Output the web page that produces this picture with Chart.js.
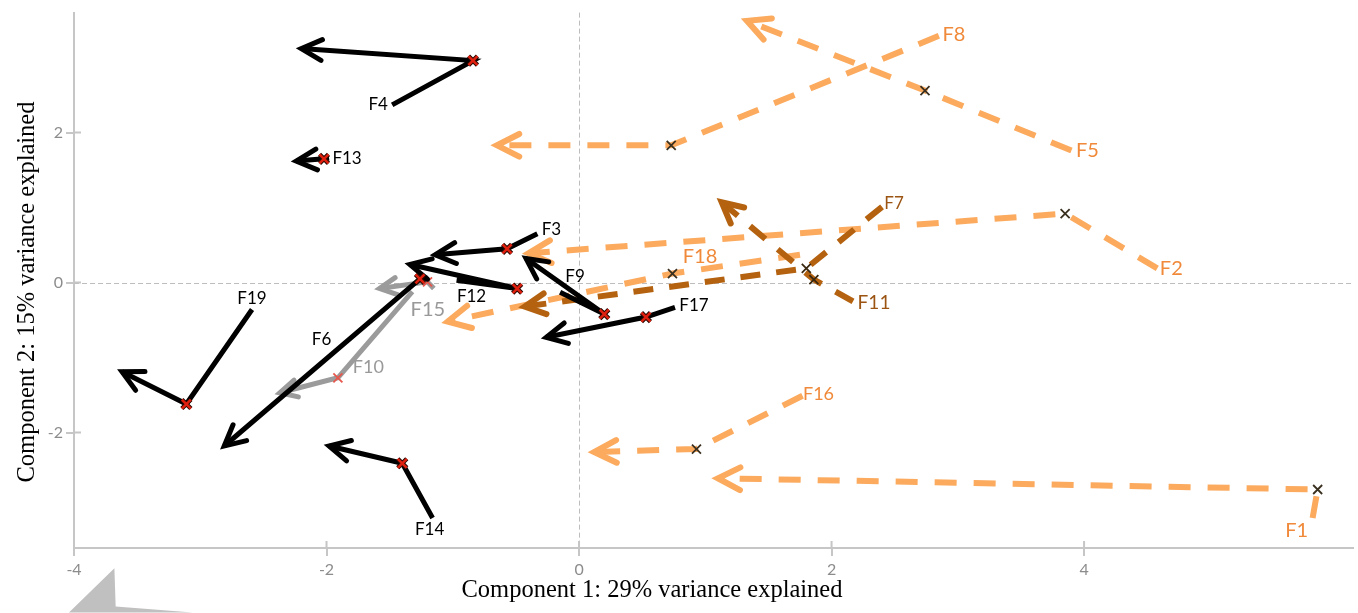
<!DOCTYPE html>
<html>
<head>
<meta charset="utf-8">
<script src="https://cdn.jsdelivr.net/npm/chart.js@4.4.0/dist/chart.umd.min.js"></script>
<style>
html, body { margin: 0; padding: 0; background: #fff; }
#wrap { width: 1358px; height: 613px; }
</style>
</head>
<body>
<div id="wrap"><canvas id="myChart"></canvas></div>
<script>
// one trajectory per factor: label at start -> x mark -> arrow head at end
var factors = ['F1','F2','F3','F4','F5','F6','F7','F8','F9','F10','F11','F12','F13','F14','F15','F16','F17','F18','F19'];
var groups  = ['orange','orange','black','black','orange','black','brown','orange','black','gray','brown','black','black','black','gray','orange','black','orange','black'];

var startX = [5.81, 4.58, -0.33, -1.48, 3.90, -1.20, 2.40, 2.85, -0.15, -1.32, 2.17, -0.97, -1.98, -1.16, -1.15, 1.77, 0.76, 1.75, -2.59];
var startY = [-3.14, 0.19, 0.65, 2.37, 1.76, 0.06, 1.01, 3.29, -0.13, -0.12, -0.25, 0.03, 1.66, -3.14, -0.08, -1.51, -0.33, 0.37, -0.36];
var midX   = [5.85, 3.85, -0.57, -0.84, 2.74, -1.26, 1.80, 0.73, 0.20, -1.91, 1.86, -0.49, -2.02, -1.40, -1.20, 0.93, 0.53, 0.74, -3.11];
var midY   = [-2.76, 0.92, 0.45, 2.96, 2.56, 0.05, 0.19, 1.83, -0.42, -1.27, 0.04, -0.08, 1.65, -2.41, 0.01, -2.22, -0.46, 0.12, -1.62];
var endX   = [1.10, -0.40, -1.14, -2.20, 1.33, -2.81, -0.43, -0.65, -0.42, -2.37, 1.13, -1.34, -2.24, -1.98, -1.58, 0.12, -0.26, -1.04, -3.62];
var endY   = [-2.61, 0.39, 0.37, 3.12, 3.49, -2.18, -0.32, 1.83, 0.32, -1.47, 1.07, 0.24, 1.62, -2.18, -0.08, -2.26, -0.73, -0.52, -1.19];

var xTicks = [-4, -2, 0, 2, 4];
var yTicks = [-2, 0, 2];
var xTitle = 'Component 1: 29% variance explained';
var yTitle = 'Component 2: 15% variance explained';

// stray grey arrow piece cut off below the axis
var strayX = [-3.68, -3.67, -3.06, -4.04];
var strayY = [-3.81, -4.32, -4.40, -4.40];

var styles = {
  black:  {line: '#000000', width: 5, dash: [], head: 23, mark: '#e0200f', edge: '#2a0800', text: '#000000', order: 0},
  gray:   {line: '#9b9b9b', width: 5, dash: [], head: 19, mark: '#e8574c', edge: null, text: '#999999', order: 1},
  brown:  {line: '#b4620f', width: 6, dash: [20, 16], head: 23, mark: '#3a2810', edge: null, text: '#9b5412', order: 2},
  orange: {line: '#fbaa5e', width: 6, dash: [22, 17], head: 25, mark: '#3a3020', edge: null, text: '#f08a3a', order: 3}
};

// label placement (centre offset from start point, px) and size
var labelPos = {
  F1: [-16, 13, 20], F2: [14, 0, 20], F3: [14, -4, 17], F4: [-14, 0, 17], F5: [16, 0, 20],
  F6: [-106, 61, 17], F7: [12, -3, 17], F8: [15, -1, 20], F9: [15, -16, 17], F10: [-44, 76, 18],
  F11: [21, 2, 19], F12: [15, 16, 17], F13: [18, 0, 17], F14: [-3, 12, 17], F15: [-6, 21, 20],
  F16: [16, -2, 18], F17: [19, -2, 17], F18: [-100, 2, 20], F19: [0, -11, 17]
};

var datasets = factors.map(function(f, i) {
  var st = styles[groups[i]];
  return {
    label: f,
    data: [{x: startX[i], y: startY[i]}, {x: midX[i], y: midY[i]}, {x: endX[i], y: endY[i]}],
    showLine: true,
    borderColor: st.line,
    borderWidth: st.width,
    borderDash: st.dash,
    borderCapStyle: 'butt',
    pointRadius: 0,
    tension: 0,
    fill: false,
    order: st.order
  };
});

var axisGrey = '#c6c6c6';

var trails = {
  id: 'trails',
  beforeDatasetsDraw: function(chart) {
    var ctx = chart.ctx, a = chart.chartArea;
    var xs = chart.scales.x, ys = chart.scales.y;
    ctx.save();
    ctx.strokeStyle = '#bdbdbd';
    ctx.lineWidth = 1;
    ctx.setLineDash([5, 3]);
    var x0 = Math.round(xs.getPixelForValue(0)) + 0.5;
    var y0 = Math.round(ys.getPixelForValue(0)) + 0.5;
    ctx.beginPath();
    ctx.moveTo(x0, a.top); ctx.lineTo(x0, a.bottom);
    ctx.moveTo(a.left, y0); ctx.lineTo(a.right, y0);
    ctx.stroke();
    // inner halves of the tick marks
    ctx.setLineDash([]);
    ctx.strokeStyle = axisGrey;
    ctx.lineWidth = 2;
    ctx.beginPath();
    xTicks.forEach(function(v) {
      var px = xs.getPixelForValue(v);
      ctx.moveTo(px, a.bottom); ctx.lineTo(px, a.bottom - 7);
    });
    yTicks.forEach(function(v) {
      var py = ys.getPixelForValue(v);
      ctx.moveTo(a.left, py); ctx.lineTo(a.left + 7, py);
    });
    ctx.stroke();
    ctx.restore();
  },
  afterDatasetDraw: function(chart, args) {
    var ctx = chart.ctx;
    var i = args.index;
    var st = styles[groups[i]];
    var pts = args.meta.data;
    var p1 = pts[1], p2 = pts[2];
    var ang = Math.atan2(p2.y - p1.y, p2.x - p1.x);
    var spread = 27 * Math.PI / 180;
    ctx.save();
    ctx.strokeStyle = st.line;
    ctx.lineWidth = st.width;
    ctx.lineCap = 'round';
    ctx.lineJoin = 'miter';
    ctx.setLineDash([]);
    ctx.beginPath();
    ctx.moveTo(p2.x - st.head * Math.cos(ang - spread), p2.y - st.head * Math.sin(ang - spread));
    ctx.lineTo(p2.x, p2.y);
    ctx.lineTo(p2.x - st.head * Math.cos(ang + spread), p2.y - st.head * Math.sin(ang + spread));
    ctx.stroke();
    // x mark at the middle point
    var r = 4.5;
    ctx.lineCap = 'butt';
    if (st.edge) {
      ctx.strokeStyle = st.edge;
      ctx.lineWidth = 4.5;
      ctx.beginPath();
      ctx.moveTo(p1.x - r, p1.y - r); ctx.lineTo(p1.x + r, p1.y + r);
      ctx.moveTo(p1.x - r, p1.y + r); ctx.lineTo(p1.x + r, p1.y - r);
      ctx.stroke();
    }
    ctx.strokeStyle = st.mark;
    ctx.lineWidth = st.edge ? 2.5 : 1.8;
    ctx.beginPath();
    ctx.moveTo(p1.x - r, p1.y - r); ctx.lineTo(p1.x + r, p1.y + r);
    ctx.moveTo(p1.x - r, p1.y + r); ctx.lineTo(p1.x + r, p1.y - r);
    ctx.stroke();
    ctx.restore();
  },
  afterDatasetsDraw: function(chart) {
    var ctx = chart.ctx;
    ctx.save();
    ctx.textAlign = 'center';
    ctx.textBaseline = 'middle';
    factors.forEach(function(f, i) {
      var p = chart.getDatasetMeta(i).data[0];
      var lp = labelPos[f];
      ctx.font = lp[2] + 'px Lato, "Open Sans", sans-serif';
      ctx.fillStyle = styles[groups[i]].text;
      ctx.fillText(f, p.x + lp[0], p.y + lp[1]);
    });
    ctx.restore();
  },
  afterDraw: function(chart) {
    var ctx = chart.ctx;
    var xs = chart.scales.x, ys = chart.scales.y;
    ctx.save();
    // stray grey piece
    ctx.fillStyle = '#c0c0c0';
    ctx.beginPath();
    strayX.forEach(function(v, k) {
      var px = xs.getPixelForValue(v), py = ys.getPixelForValue(strayY[k]);
      if (k === 0) ctx.moveTo(px, py); else ctx.lineTo(px, py);
    });
    ctx.closePath();
    ctx.fill();
    // axis titles
    ctx.fillStyle = '#000';
    ctx.font = '24.5px "Liberation Serif", "Times New Roman", serif';
    ctx.textAlign = 'center';
    ctx.textBaseline = 'middle';
    ctx.fillText(xTitle, 652, 591);
    ctx.translate(28, 292);
    ctx.rotate(-Math.PI / 2);
    ctx.fillText(yTitle, 0, 0);
    ctx.restore();
  }
};

var tickFont = {family: 'Lato, "Open Sans", sans-serif', size: 16};

new Chart(document.getElementById('myChart'), {
  type: 'scatter',
  data: {datasets: datasets},
  options: {
    responsive: true,
    maintainAspectRatio: false,
    animation: false,
    layout: {padding: {top: 9, right: 5, left: 0, bottom: 0}},
    plugins: {legend: {display: false}, tooltip: {enabled: false}},
    scales: {
      x: {
        type: 'linear',
        min: -4,
        max: 6.13,
        afterBuildTicks: function(s) { s.ticks = xTicks.map(function(v) { return {value: v}; }); },
        afterFit: function(s) { s.height = 65; },
        ticks: {color: '#8c8c8c', font: tickFont, padding: 4},
        grid: {drawOnChartArea: false, tickLength: 8, color: axisGrey, lineWidth: 2},
        border: {color: axisGrey, width: 2}
      },
      y: {
        type: 'linear',
        min: -3.54,
        max: 3.6,
        afterBuildTicks: function(s) { s.ticks = yTicks.map(function(v) { return {value: v}; }); },
        afterFit: function(s) { s.width = 74; },
        ticks: {color: '#8c8c8c', font: tickFont, padding: 3},
        grid: {drawOnChartArea: false, tickLength: 8, color: axisGrey, lineWidth: 2},
        border: {color: axisGrey, width: 2}
      }
    }
  },
  plugins: [trails]
});
</script>
</body>
</html>
